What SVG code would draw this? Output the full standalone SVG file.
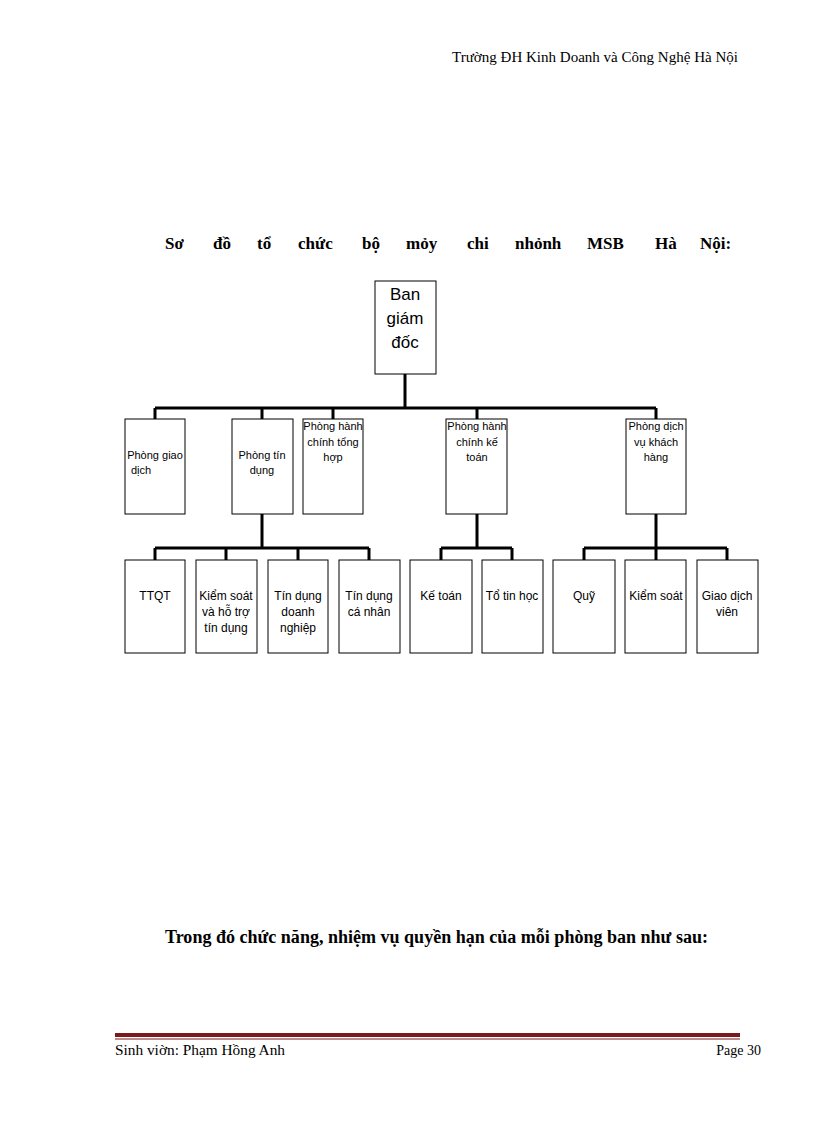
<svg xmlns="http://www.w3.org/2000/svg" width="816" height="1123" viewBox="0 0 816 1123">
<style>
.b{fill:#fff;stroke:#000;stroke-width:1}
.c{fill:none;stroke:#000;stroke-width:3}
.s{font-family:"Liberation Sans",Arial,sans-serif;font-size:11px;text-anchor:middle;fill:#000}
.m{font-family:"Liberation Sans",Arial,sans-serif;font-size:12px;text-anchor:middle;fill:#000}
.r{font-family:"Liberation Serif","Times New Roman",serif;fill:#000}
</style>
<rect width="816" height="1123" fill="#fff"/>
<text class="r" x="452" y="62" font-size="14" textLength="286" lengthAdjust="spacingAndGlyphs">Trường ĐH Kinh Doanh và Công Nghệ Hà Nội</text>
<g class="r" font-size="17" font-weight="bold">
<text x="165" y="249">Sơ</text><text x="213" y="249">đồ</text><text x="257" y="249">tổ</text><text x="298" y="249">chức</text><text x="362" y="249">bộ</text><text x="406" y="249">mỏy</text><text x="467" y="249">chi</text><text x="515" y="249">nhỏnh</text><text x="587" y="249">MSB</text><text x="655" y="249">Hà</text><text x="700" y="249">Nội:</text>
</g>
<g id="connectors" class="c">
<path d="M405 374V408M155 408H656M155 408V419M262 408V419M333 408V419M477 408V419M656 408V419"/>
<path d="M262 514V548M155 548H369M155 548V560M226 548V560M298 548V560M369 548V560"/>
<path d="M477 514V548M441 548H512M441 548V560M512 548V560"/>
<path d="M656 514V548M584 548H727M584 548V560M656 548V560M727 548V560"/>
</g>
<g id="n0"><rect class="b" x="375" y="281" width="61" height="93"/><text font-family="Liberation Sans,Arial,sans-serif" font-size="17" text-anchor="middle"><tspan x="405" y="300">Ban</tspan><tspan x="405" y="324">giám</tspan><tspan x="405" y="348">đốc</tspan></text></g>
<g id="n1"><rect class="b" x="125" y="419" width="60" height="95"/><text class="s"><tspan x="155" y="459">Phòng giao</tspan><tspan x="141" y="474">dịch</tspan></text></g>
<g id="n2"><rect class="b" x="232" y="419" width="61" height="95"/><text class="s"><tspan x="262" y="459">Phòng tín</tspan><tspan x="262" y="474">dụng</tspan></text></g>
<g id="n3"><rect class="b" x="303" y="419" width="60" height="95"/><text class="s"><tspan x="333" y="430">Phòng hành</tspan><tspan x="333" y="446">chính tổng</tspan><tspan x="333" y="461">hợp</tspan></text></g>
<g id="n4"><rect class="b" x="446" y="419" width="61" height="95"/><text class="s"><tspan x="477" y="430">Phòng hành</tspan><tspan x="477" y="446">chính kế</tspan><tspan x="477" y="461">toán</tspan></text></g>
<g id="n5"><rect class="b" x="626" y="419" width="60" height="95"/><text class="s"><tspan x="656" y="430">Phòng dịch</tspan><tspan x="656" y="446">vụ khách</tspan><tspan x="656" y="461">hàng</tspan></text></g>
<g id="n6"><rect class="b" x="125" y="560" width="60" height="93"/><text class="m" x="155" y="600">TTQT</text></g>
<g id="n7"><rect class="b" x="196" y="560" width="61" height="93"/><text class="m"><tspan x="226" y="600">Kiểm soát</tspan><tspan x="226" y="616">và hỗ trợ</tspan><tspan x="226" y="632">tín dụng</tspan></text></g>
<g id="n8"><rect class="b" x="268" y="560" width="60" height="93"/><text class="m"><tspan x="298" y="600">Tín dụng</tspan><tspan x="298" y="616">doanh</tspan><tspan x="298" y="632">nghiệp</tspan></text></g>
<g id="n9"><rect class="b" x="339" y="560" width="61" height="93"/><text class="m"><tspan x="369" y="600">Tín dụng</tspan><tspan x="369" y="616">cá nhân</tspan></text></g>
<g id="n10"><rect class="b" x="410" y="560" width="62" height="93"/><text class="m" x="441" y="600">Kế toán</text></g>
<g id="n11"><rect class="b" x="482" y="560" width="61" height="93"/><text class="m" x="512" y="600">Tổ tin học</text></g>
<g id="n12"><rect class="b" x="553" y="560" width="62" height="93"/><text class="m" x="584" y="600">Quỹ</text></g>
<g id="n13"><rect class="b" x="625" y="560" width="61" height="93"/><text class="m" x="656" y="600">Kiểm soát</text></g>
<g id="n14"><rect class="b" x="697" y="560" width="61" height="93"/><text class="m"><tspan x="727" y="600">Giao dịch</tspan><tspan x="727" y="616">viên</tspan></text></g>
<text class="r" x="165" y="943" font-size="18" font-weight="bold" textLength="543" lengthAdjust="spacingAndGlyphs">Trong đó chức năng, nhiệm vụ quyền hạn của mỗi phòng ban như sau:</text>
<rect x="115" y="1033" width="625" height="4" fill="#7a1a1a"/>
<rect x="115" y="1038.5" width="625" height="1" fill="#7a1a1a"/>
<text class="r" x="115" y="1055" font-size="14" textLength="170" lengthAdjust="spacingAndGlyphs">Sinh viờn: Phạm Hồng Anh</text>
<text class="r" x="761" y="1055" font-size="14" text-anchor="end">Page 30</text>
</svg>
